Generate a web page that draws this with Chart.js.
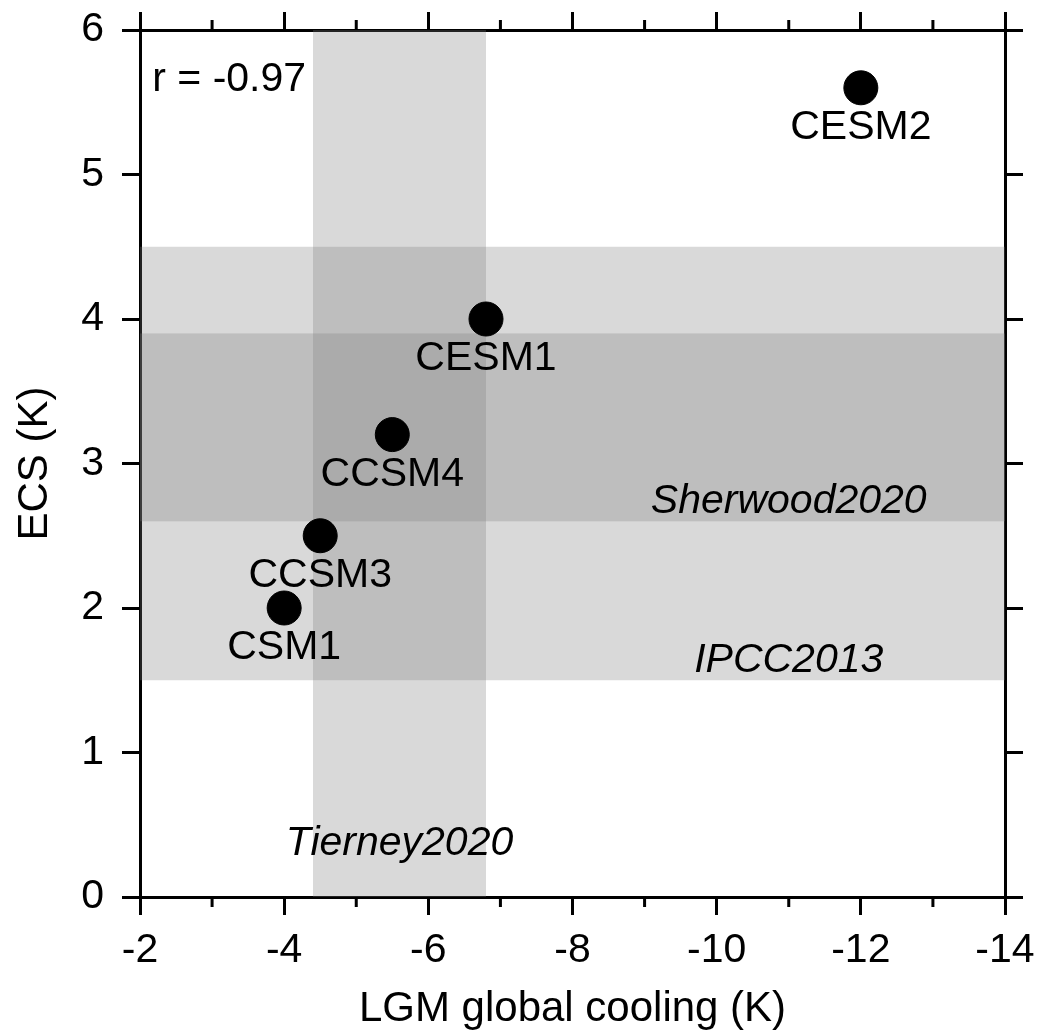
<!DOCTYPE html>
<html lang="en">
<head>
    <meta charset="UTF-8">
    <script src="https://cdn.jsdelivr.net/npm/chart.js"></script>
    <title>ECS vs LGM cooling</title>
    <style>
        html, body{ margin:0; padding:0; background:#fff; }
        #chart_area{ width:1041px; height:1035px; }
    </style>
</head>
<body>
    <div id="chart_area">
        <canvas id="mychart" width="1041" height="1035"></canvas>
    </div>
    <script>
        // model runs
        const models     = ["CSM1", "CCSM3", "CCSM4", "CESM1", "CESM2"];
        const lgmCooling = [-4.0, -4.5, -5.5, -6.8, -12.0];
        const ecs        = [2.0, 2.5, 3.2, 4.0, 5.6];

        // axis ticks
        const xMajor = [-2, -4, -6, -8, -10, -12, -14];
        const xMinor = [-3, -5, -7, -9, -11, -13];
        const yMajor = [0, 1, 2, 3, 4, 5, 6];

        // constraint ranges
        const tierneyRange  = [-4.4, -6.8];   // LGM cooling (K)
        const ipccRange     = [1.5, 4.5];     // ECS (K)
        const sherwoodRange = [2.6, 3.9];     // ECS (K)
        const rValue = -0.97;

        const FONT = "'Liberation Sans', Arial, Helvetica, sans-serif";
        const FS = 41;
        const bandColor = "rgba(124,124,124,0.29)";

        // text annotations (data coords, baseline)
        const notes = [
            {text: "r = " + rValue.toFixed(2), x: -2.17, y: 5.58, align: "left",   italic: false},
            {text: "Sherwood2020",             x: -11,   y: 2.66, align: "center", italic: true},
            {text: "IPCC2013",                 x: -11,   y: 1.56, align: "center", italic: true},
            {text: "Tierney2020",              x: -5.6,  y: 0.29, align: "center", italic: true},
        ];

        const bandsPlugin = {
            id: "bands",
            beforeDatasetsDraw(chart){
                const {ctx, chartArea:a, scales:{x, y}} = chart;
                ctx.save();
                ctx.beginPath();
                ctx.rect(a.left, a.top, a.right - a.left, a.bottom - a.top);
                ctx.clip();
                ctx.fillStyle = bandColor;
                // vertical band
                let x1 = x.getPixelForValue(tierneyRange[0]), x2 = x.getPixelForValue(tierneyRange[1]);
                ctx.fillRect(Math.min(x1,x2), y.getPixelForValue(6), Math.abs(x2-x1), y.getPixelForValue(0) - y.getPixelForValue(6));
                // horizontal bands
                [ipccRange, sherwoodRange].forEach(r=>{
                    const yTop = y.getPixelForValue(r[1]), yBot = y.getPixelForValue(r[0]);
                    const l = x.getPixelForValue(-2), rr = x.getPixelForValue(-14);
                    ctx.fillRect(l, yTop, rr - l, yBot - yTop);
                });
                ctx.restore();
            },
            afterDatasetsDraw(chart){
                const {ctx, chartArea:a, scales:{x, y}} = chart;
                ctx.save();
                // minor ticks top & bottom
                ctx.strokeStyle = "#000";
                ctx.lineWidth = 3;
                xMinor.forEach(v=>{
                    const px = x.getPixelForValue(v);
                    ctx.beginPath();
                    ctx.moveTo(px, a.bottom); ctx.lineTo(px, a.bottom + 10);
                    ctx.moveTo(px, a.top);    ctx.lineTo(px, a.top - 10);
                    ctx.stroke();
                });
                // point labels
                ctx.fillStyle = "#000";
                ctx.font = FS + "px " + FONT;
                ctx.textAlign = "center";
                ctx.textBaseline = "alphabetic";
                const meta = chart.getDatasetMeta(0);
                meta.data.forEach((pt, i)=>{
                    ctx.fillText(models[i], pt.x, pt.y + 51);
                });
                // annotations
                notes.forEach(n=>{
                    ctx.font = (n.italic ? "italic " : "") + FS + "px " + FONT;
                    ctx.textAlign = n.align;
                    ctx.fillText(n.text, x.getPixelForValue(n.x), y.getPixelForValue(n.y));
                });
                ctx.restore();
            }
        };

        Chart.defaults.font.family = FONT;
        Chart.defaults.font.size = FS;
        Chart.defaults.color = "#000";

        const gridOpts = {
            display: true,
            drawOnChartArea: false,
            drawTicks: true,
            tickLength: 18,
            lineWidth: 3,
            tickWidth: 3,
            color: "#000",
            tickColor: "#000",
        };
        const borderOpts = {display: true, width: 3, color: "#000"};

        // fixed box sizes so the plot area sits where the original one does
        function fixSize(s, size){
            if(s.isHorizontal()) s.height = size; else s.width = size;
            s.paddingTop = 0; s.paddingBottom = 0; s.paddingLeft = 0; s.paddingRight = 0;
        }

        const ctx = document.querySelector("#mychart");
        const chart = new Chart(ctx, {
            type: "scatter",
            data: {
                datasets: [{
                    data: models.map((m, i)=>({x: lgmCooling[i], y: ecs[i]})),
                    backgroundColor: "#000",
                    borderColor: "#000",
                    borderWidth: 1,
                    pointRadius: 17,
                    pointHoverRadius: 17,
                }]
            },
            options: {
                responsive: false,
                animation: false,
                layout: {padding: 0},
                plugins: {legend: {display: false}, tooltip: {enabled: false}},
                scales: {
                    x: {
                        type: "linear", position: "bottom", reverse: true,
                        min: -14, max: -2,
                        afterBuildTicks: s=>{ s.ticks = xMajor.map(v=>({value: v})); },
                        ticks: {padding: 11, maxRotation: 0, autoSkip: false},
                        grid: gridOpts, border: borderOpts,
                        title: {display: true, text: "LGM global cooling (K)", font: {size: 42}, padding: {top: 0, bottom: 0}},
                        afterFit: s=>fixSize(s, 138)
                    },
                    x2: {
                        type: "linear", position: "top", axis: "x", reverse: true,
                        min: -14, max: -2,
                        afterBuildTicks: s=>{ s.ticks = xMajor.map(v=>({value: v})); },
                        ticks: {display: false},
                        grid: gridOpts, border: borderOpts,
                        afterFit: s=>fixSize(s, 30)
                    },
                    y: {
                        type: "linear", position: "left",
                        min: 0, max: 6,
                        afterBuildTicks: s=>{ s.ticks = yMajor.map(v=>({value: v})); },
                        ticks: {padding: 18},
                        grid: gridOpts, border: borderOpts,
                        title: {display: true, text: "ECS (K)", font: {size: 42}, padding: {top: 10, bottom: 0}},
                        afterFit: s=>fixSize(s, 140)
                    },
                    y2: {
                        type: "linear", position: "right", axis: "y",
                        min: 0, max: 6,
                        afterBuildTicks: s=>{ s.ticks = yMajor.map(v=>({value: v})); },
                        ticks: {display: false},
                        grid: gridOpts, border: borderOpts,
                        afterFit: s=>fixSize(s, 36)
                    }
                }
            },
            plugins: [bandsPlugin]
        });
    </script>
</body>
</html>
